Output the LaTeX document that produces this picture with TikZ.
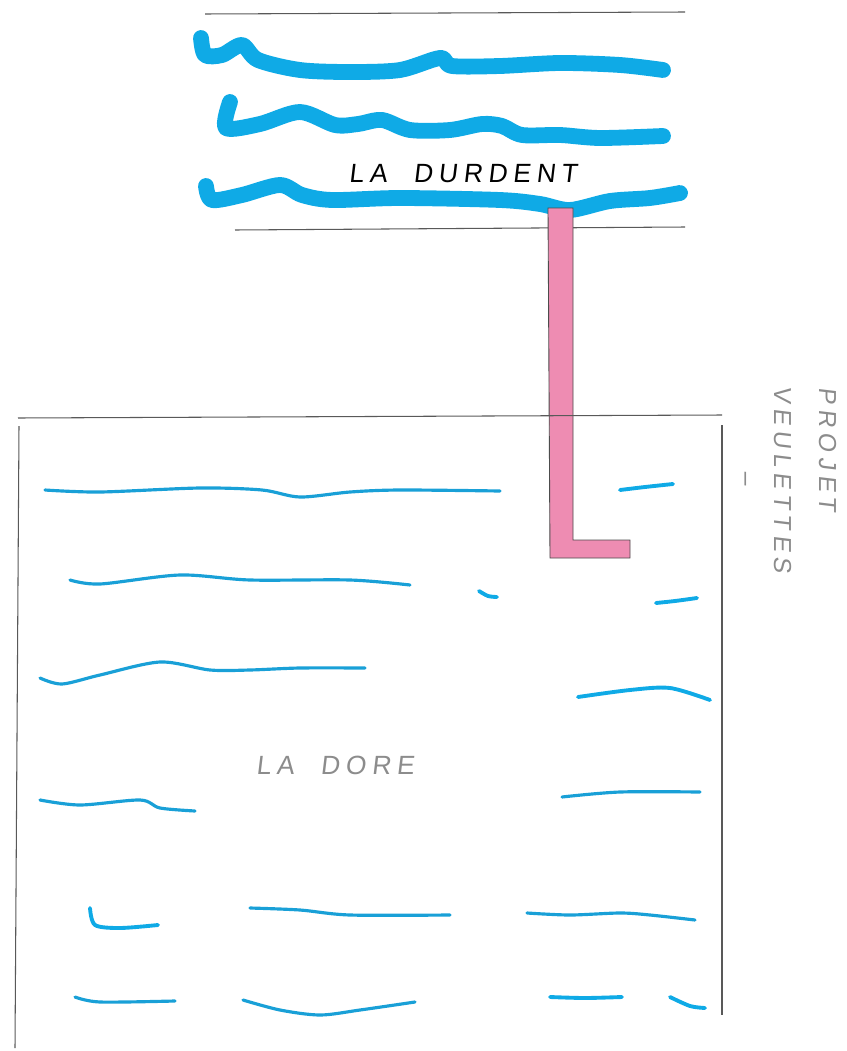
\documentclass[tikz,border=0pt]{standalone}
\usepackage{fontspec}
\newfontfamily\handfont[LetterSpace=22,FakeSlant=0.12]{Liberation Sans}
\usetikzlibrary{positioning}
\definecolor{riverblue}{RGB}{15,170,230}
\definecolor{seablue}{RGB}{25,160,215}
\definecolor{pipepink}{RGB}{238,140,178}
\definecolor{pencil}{RGB}{140,140,140}

\begin{document}
\begin{tikzpicture}[
    x=0.02cm, y=-0.02cm,
    edge/.style={draw=black!65, line width=0.6pt},
    river/.style={draw=riverblue, line width=9pt, line cap=round, line join=round},
    sea/.style={draw=seablue, line width=1.8pt, line cap=round},
    brightsea/.style={draw=riverblue, line width=2.2pt, line cap=round},
    pipe/.style={fill=pipepink, draw=black!70, line width=0.5pt},
    label/.style={font=\handfont\fontsize{15}{18}\selectfont},
    note/.style={font=\handfont\fontsize{14}{18}\selectfont, text=pencil, rotate=-90}
]
\useasboundingbox (0,0) rectangle (847,1051);
% 1. River banks
\coordinate (rtl) at (205,14);
\coordinate (rtr) at (685,12);
\coordinate (rbl) at (235,230);
\coordinate (rbr) at (685,227);
\draw[edge] (rtl) -- (rtr);
\draw[edge] (rbl) -- (rbr);
% 2. River waves
\draw[river] plot[smooth] coordinates {(201,38) (205,55) (222,55) (242,45) (258,60) (300,70) (350,72) (400,70) (440,58) (452,66) (500,66) (560,63) (620,65) (663,70)};
\draw[river] plot[smooth] coordinates {(230,102) (226,128) (260,124) (300,112) (335,125) (358,124) (382,120) (410,130) (450,130) (482,124) (502,126) (522,135) (560,135) (600,138) (663,136)};
\draw[river] plot[smooth] coordinates {(206,186) (212,200) (242,195) (280,185) (302,195) (332,200) (400,198) (500,200) (540,204) (570,210) (610,201) (650,198) (680,193)};
\node[label] (durdent) at (463,174) {LA\quad DURDENT};
% 3. Pipe from the river to the sea
\draw[pipe] (548,208) -- (573,208) -- (573,540) -- (630,540) -- (630,558) -- (550,558) -- cycle;
% 4. Sea frame
\coordinate (stl) at (18,418);
\coordinate (str) at (722,415);
\coordinate (sbl) at (15,1048);
\coordinate (sbr) at (722,1015);
\draw[edge] (stl) -- (str);
\draw[edge] (19,426) -- (sbl);
\draw[edge] (722,425) -- (sbr);
% 5. Sea waves
\draw[sea] plot[smooth] coordinates {(45,490) (100,492) (200,488) (262,490) (300,497) (350,492) (400,490) (500,491)};
\draw[sea] plot[smooth] coordinates {(70,580) (100,584) (180,575) (250,580) (350,580) (410,585)};
\draw[sea] plot[smooth] coordinates {(40,678) (62,684) (100,675) (160,662) (210,670) (250,670) (300,668) (365,668)};
\draw[sea] plot[smooth] coordinates {(40,800) (80,805) (140,800) (160,808) (195,811)};
\draw[brightsea] plot[smooth] coordinates {(90,908) (95,925) (120,928) (158,925)};
\draw[sea] plot[smooth] coordinates {(250,908) (300,910) (350,915) (450,915)};
\draw[sea] plot[smooth] coordinates {(527,913) (570,915) (620,913) (650,915) (695,920)};
\draw[sea] plot[smooth] coordinates {(75,997) (100,1002) (175,1001)};
\draw[sea] plot[smooth] coordinates {(243,1000) (280,1010) (320,1015) (360,1010) (415,1002)};
\draw[brightsea] plot[smooth] coordinates {(550,997) (585,998) (622,997)};
\draw[brightsea] plot[smooth] coordinates {(670,997) (690,1006) (705,1008)};
\draw[brightsea] plot[smooth] coordinates {(620,490) (645,487) (673,484)};
\draw[brightsea] plot[smooth] coordinates {(479,591) (488,596) (497,597)};
\draw[brightsea] plot[smooth] coordinates {(656,603) (675,601) (697,598)};
\draw[brightsea] plot[smooth] coordinates {(578,697) (630,690) (670,688) (710,700)};
\draw[sea] plot[smooth] coordinates {(562,797) (620,792) (700,792)};
\node[label, text=pencil] (dore) at (335,765) {LA\quad DORE};
% 6. Side note
\node[note] (projet) at (828,450) {PROJET};
\node[note] (veulettes) at (783,480) {VEULETTES};
\node[note] (tiret) at (743,478) {\textendash};
\end{tikzpicture}
\end{document}
